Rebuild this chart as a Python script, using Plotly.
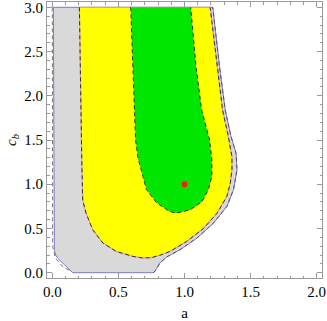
import plotly.graph_objects as go

# Region boundaries (a, c_b)
gray_a = [0.008, 0.012, 0.015, 0.016, 0.025, 0.04, 0.091, 0.155, 0.763, 0.776, 0.814, 0.865, 0.966, 1.093, 1.219, 1.321, 1.371, 1.397, 1.39, 1.35, 1.308, 1.265, 1.214]
gray_c = [3.0, 1.5, 0.5, 0.26, 0.2, 0.166, 0.09, 0.0, 0.0, 0.015, 0.11, 0.177, 0.26, 0.39, 0.56, 0.75, 0.94, 1.16, 1.35, 1.55, 1.84, 2.33, 3.0]

gray_dash_a = [0.0, 0.0, 0.003, 0.023, 0.078, 0.142]
gray_dash_c = [3.0, 1.0, 0.3, 0.166, 0.07, 0.015]

yellow_a = [0.205, 0.218, 0.223, 0.23, 0.256, 0.306, 0.383, 0.484, 0.61, 0.68, 0.75, 0.82, 0.89, 1.017, 1.143, 1.245, 1.32, 1.346, 1.359, 1.359, 1.33, 1.288, 1.25, 1.194]
yellow_c = [3.0, 1.5, 1.275, 0.82, 0.67, 0.485, 0.335, 0.24, 0.184, 0.167, 0.17, 0.2, 0.24, 0.354, 0.5, 0.67, 0.86, 1.01, 1.16, 1.31, 1.55, 1.84, 2.33, 3.0]

green_a = [0.593, 0.63, 0.648, 0.674, 0.712, 0.789, 0.89, 0.94, 1.042, 1.131, 1.181, 1.207, 1.207, 1.19, 1.13, 1.087, 1.047]
green_c = [3.0, 1.5, 1.3, 1.16, 0.94, 0.79, 0.69, 0.674, 0.71, 0.80, 0.94, 1.09, 1.275, 1.5, 1.84, 2.33, 3.0]

point_a = [1.0]
point_c = [1.0]

fig = go.Figure()

def closed(xs, ys):
    return xs + [xs[0]], ys + [ys[0]]

gx, gy = closed(gray_a, gray_c)
fig.add_trace(go.Scatter(x=gx, y=gy, fill="toself", fillcolor="#d9d9d9",
                         mode="lines", line=dict(color="#7b7bc8", width=1)))
fig.add_trace(go.Scatter(x=gray_dash_a, y=gray_dash_c, mode="lines",
                         line=dict(color="#777777", width=1, dash="4px,3px")))
fig.add_trace(go.Scatter(x=gray_a[8:], y=gray_c[8:], mode="lines",
                         line=dict(color="#444444", width=0.8, dash="4px,3px")))

yx, yy = closed(yellow_a, yellow_c)
fig.add_trace(go.Scatter(x=yx, y=yy, fill="toself", fillcolor="#ffff00",
                         mode="lines", line=dict(color="#d9a0a0", width=1.2)))
fig.add_trace(go.Scatter(x=yellow_a, y=yellow_c, mode="lines",
                         line=dict(color="#333333", width=1, dash="4px,3px")))

nx, ny = closed(green_a, green_c)
fig.add_trace(go.Scatter(x=nx, y=ny, fill="toself", fillcolor="#00e600",
                         mode="lines", line=dict(color="#00e600", width=0)))
fig.add_trace(go.Scatter(x=green_a, y=green_c, mode="lines",
                         line=dict(color="#333333", width=1, dash="4px,3px")))

fig.add_trace(go.Scatter(x=point_a, y=point_c, mode="markers",
                         marker=dict(color="#ff1a1a", size=6)))

font = dict(family="Liberation Serif, Times New Roman, serif", size=15, color="black")
axis_common = dict(showline=True, mirror="allticks", linecolor="#9a9a9a", linewidth=1,
                   ticks="inside", ticklen=5, tickcolor="#9a9a9a", tickwidth=1,
                   showgrid=False, zeroline=False, tickformat=".1f", dtick=0.5,
                   tickfont=font, ticklabeloverflow="allow",
                   minor=dict(dtick=0.1, ticks="inside", ticklen=2.5, tickcolor="#9a9a9a", showgrid=False))

fig.update_xaxes(range=[-0.04, 2.04], tick0=0, title=dict(text="a", font=font, standoff=8), **axis_common)
fig.update_yaxes(range=[-0.06, 3.06], tick0=0, title=dict(text="<i>c</i><sub><i>b</i></sub>", font=font, standoff=4), **axis_common)

fig.update_layout(width=327, height=321, margin=dict(l=47, r=5, t=2, b=43, autoexpand=False),
                  plot_bgcolor="white", paper_bgcolor="white", showlegend=False)

fig.write_html("out.html", config={"displayModeBar": False},
               post_script="document.body.style.margin='0';document.body.style.overflow='hidden';")
